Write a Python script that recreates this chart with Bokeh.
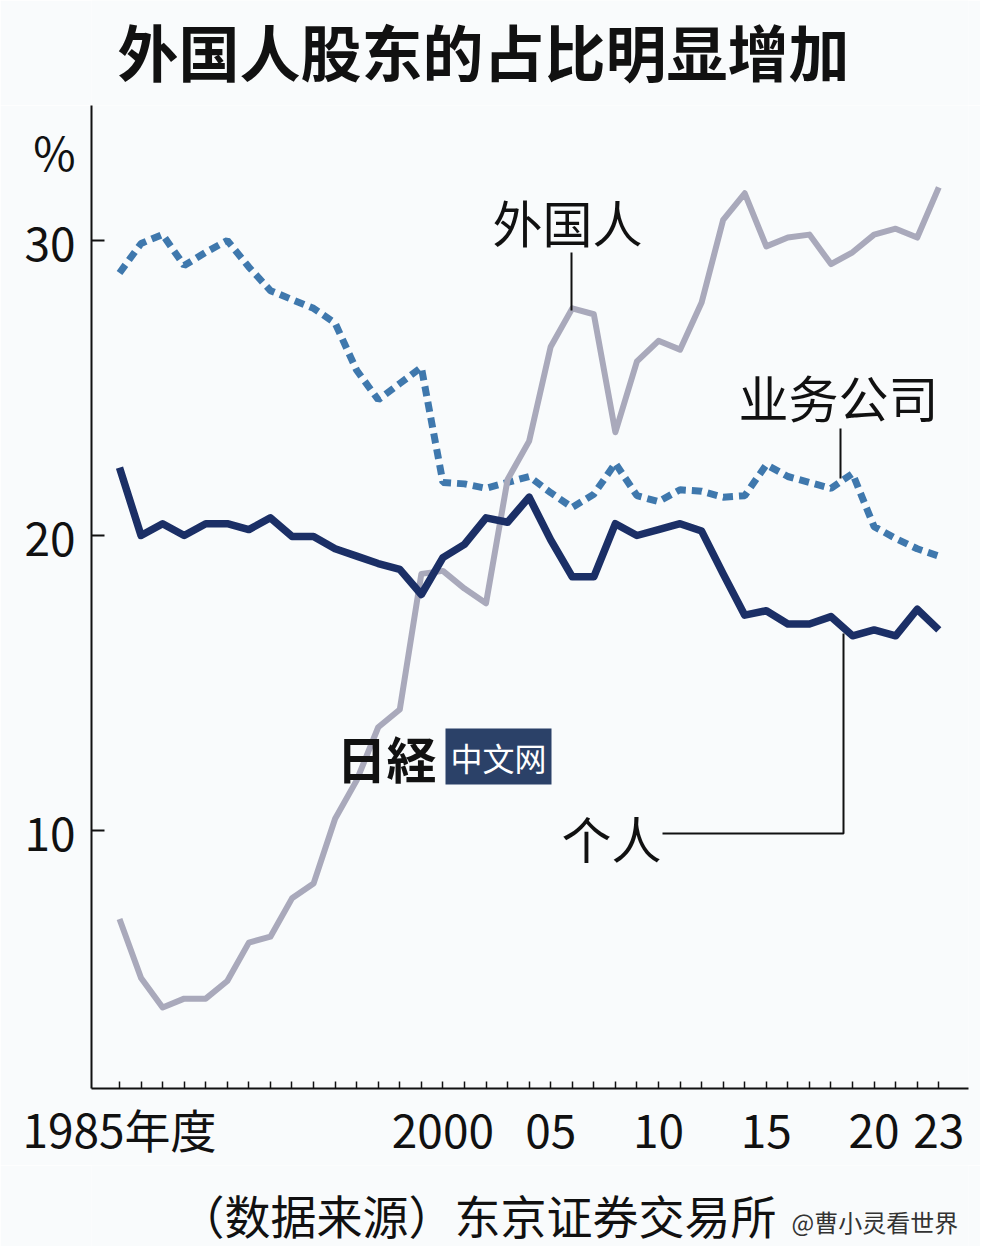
from bokeh.plotting import figure
from bokeh.layouts import column
from bokeh.models import Label, FixedTicker, Range1d
from bokeh.embed import file_html
from bokeh.resources import INLINE
from bokeh.core.properties import value

# ---------------- data ----------------
years = list(range(1985, 2024))
foreign = [7.0, 5.0, 4.0, 4.3, 4.3, 4.9, 6.2, 6.4, 7.7, 8.2,
           10.4, 11.7, 13.5, 14.1, 18.7, 18.8, 18.2, 17.7, 21.9, 23.2,
           26.4, 27.7, 27.5, 23.5, 25.9, 26.6, 26.3, 27.9, 30.7, 31.6,
           29.8, 30.1, 30.2, 29.2, 29.6, 30.2, 30.4, 30.1, 31.8]
business = [28.9, 29.9, 30.2, 29.15, 29.6, 30.0, 29.1, 28.3, 28.0, 27.7,
            27.2, 25.6, 24.6, 25.15, 25.7, 21.8, 21.75, 21.6, 21.8, 22.0,
            21.45, 20.95, 21.4, 22.45, 21.35, 21.15, 21.55, 21.5, 21.3, 21.35,
            22.4, 22.0, 21.8, 21.6, 22.1, 20.3, 19.9, 19.55, 19.3]
individual = [22.3, 20.0, 20.4, 20.0, 20.4, 20.4, 20.2, 20.6, 19.97, 19.97,
              19.55, 19.3, 19.05, 18.85, 18.0, 19.25, 19.7, 20.6, 20.45, 21.3,
              19.85, 18.6, 18.6, 20.4, 20.0, 20.2, 20.4, 20.15, 18.7, 17.3,
              17.45, 17.0, 17.0, 17.25, 16.6, 16.8, 16.6, 17.5, 16.8]
y_ticks = [10, 20, 30]
unit_label = "%"
x_tick_labels = {1985: "1985年度", 2000: "2000", 2005: "05", 2010: "10",
                 2015: "15", 2020: "20", 2023: "23"}
title_text = ["外国人股东的占比明显增加"]
source_text = ["（数据来源）东京证券交易所"]
credit_text = ["@曹小灵看世界"]

# ---------------- styles ----------------
BG = "#f9fbfc"
INK = "#111111"
CJK = "Noto Sans CJK SC"
NUM = "Noto Sans CJK JP"
C_FOREIGN = "#a9a9bb"
C_BUSINESS = "#3f78ad"
C_INDIV = "#1b2f66"
W = 980
FRAME_L, FRAME_R = 91, 968
HEAD_H, MAIN_H, FOOT_H = 105, 1060, 81


def yr(px):   # picture pixel -> year (annotation placement only)
    return 1985 + (px - 119) / 21.56


def val(py):  # picture pixel -> value (annotation placement only)
    return 20 + (535 - py) / 29.5


def strip(fig):
    fig.background_fill_color = BG
    fig.border_fill_color = BG
    fig.outline_line_color = None
    fig.grid.visible = False


def band(height):
    # text band whose frame is aligned with the chart frame by the column layout;
    # its data units are picture pixels
    fig = figure(width=W, height=height, output_backend="svg",
                 toolbar_location=None, title=None,
                 x_range=Range1d(FRAME_L, FRAME_R), y_range=Range1d(0, height),
                 x_axis_location=None, y_axis_location=None,
                 min_border_left=FRAME_L, min_border_right=W - FRAME_R,
                 min_border_top=0, min_border_bottom=0)
    strip(fig)
    return fig


# ---------------- header (title) ----------------
h = band(HEAD_H)
h.text(x=[117], y=[HEAD_H - 50], text=title_text, text_font=value(CJK),
       text_font_size="61px", text_font_style="bold", text_color=INK,
       text_align="left", text_baseline="middle")

# ---------------- main chart ----------------
UNIT_POS = 33.05
p = figure(width=W, height=MAIN_H, output_backend="svg", toolbar_location=None,
           title=None,
           x_range=Range1d(yr(FRAME_L), yr(FRAME_R)),
           y_range=Range1d(val(1088), val(105)),
           min_border_left=FRAME_L, min_border_right=W - FRAME_R,
           min_border_top=0, min_border_bottom=HEAD_H + MAIN_H - 1088)
strip(p)

xa = p.xaxis[0]
xa.ticker = FixedTicker(ticks=years)
xa.major_label_overrides = {y: x_tick_labels.get(y, "") for y in years}
xa.major_tick_in = 7
xa.major_tick_out = 0
xa.minor_tick_line_color = None
xa.axis_line_width = 2
xa.axis_line_color = INK
xa.major_tick_line_width = 1.5
xa.major_tick_line_color = INK
xa.major_label_text_font = NUM
xa.major_label_text_font_size = "46px"
xa.major_label_text_color = INK
xa.major_label_standoff = 6

ya = p.yaxis[0]
ya.ticker = FixedTicker(ticks=y_ticks + [UNIT_POS])
ya.major_label_overrides = {UNIT_POS: unit_label}
ya.major_tick_line_color = None
ya.minor_tick_line_color = None
ya.axis_line_width = 2
ya.axis_line_color = INK
ya.major_label_text_font = NUM
ya.major_label_text_font_size = "46px"
ya.major_label_text_color = INK
ya.major_label_standoff = 10

# inward y tick marks (the "%" row carries no tick)
p.segment(x0=[yr(FRAME_L)] * len(y_ticks), x1=[yr(104)] * len(y_ticks),
          y0=y_ticks, y1=y_ticks, line_color=INK, line_width=2)

# series
p.line(years, business, line_color=C_BUSINESS, line_width=7, line_dash="10 6")
p.line(years, foreign, line_color=C_FOREIGN, line_width=6, line_join="round")
p.line(years, individual, line_color=C_INDIV, line_width=7.5, line_join="round")

# leader lines
p.line([yr(571), yr(571)], [val(252), val(310)], line_color=INK, line_width=2)
p.line([yr(840), yr(840)], [val(428), val(478)], line_color=INK, line_width=2)
p.line([yr(662), yr(843), yr(843)], [val(833), val(833), val(633)],
       line_color=INK, line_width=2)


def lab(text, px, py, size, font=CJK, style="normal", color=INK,
        align="center", **kw):
    p.add_layout(Label(x=yr(px), y=val(py), text=text, text_font=font,
                       text_font_size=size, text_font_style=style,
                       text_color=color, text_align=align,
                       text_baseline="middle", **kw))


lab("外国人", 567, 220, "50px")
lab("业务公司", 838, 395, "50px")
lab("个人", 611, 836, "50px")

# watermark
lab("日経", 436, 756, "50px", font="Noto Sans CJK JP", style="bold", align="right")
lab("中文网", 498, 756, "32px", color="#ffffff", background_fill_color="#2b4168",
    padding=5)

# ---------------- footer ----------------
TOTAL = HEAD_H + MAIN_H + FOOT_H
f = band(FOOT_H)
f.text(x=[178], y=[TOTAL - 1213], text=source_text, text_font=value(CJK),
       text_font_size="46px", text_color=INK, text_align="left",
       text_baseline="middle")
f.text(x=[791], y=[TOTAL - 1221], text=credit_text, text_font=value(CJK),
       text_font_size="24px", text_color="#333333", text_align="left",
       text_baseline="middle")

open("out.html", "w").write(file_html(column(h, p, f, spacing=0), INLINE))
